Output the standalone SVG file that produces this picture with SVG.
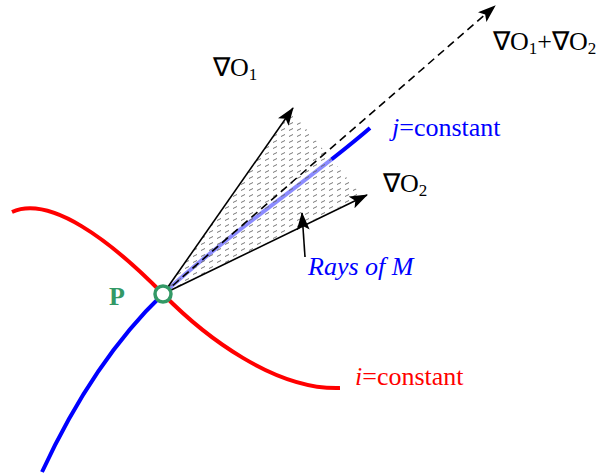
<svg xmlns="http://www.w3.org/2000/svg" width="598" height="475" viewBox="0 0 598 475">
<style>
text{font-family:"Liberation Serif","Times New Roman",serif;font-size:26px;}
.sub{font-size:17px;}
.arr{stroke:#000;stroke-width:1.6;fill:none;}
</style>
<defs>
<marker id="ah" viewBox="0 0 18 13" refX="17" refY="6.5" markerWidth="18" markerHeight="13" markerUnits="userSpaceOnUse" orient="auto">
<path d="M0,0 L18,6.5 L0,13 L4,6.5 Z" fill="#000"/>
</marker>
<pattern id="dots" width="8" height="6" patternUnits="userSpaceOnUse">
<line x1="1" y1="4.5" x2="5" y2="2.5" stroke="#666" stroke-width="0.9"/>
</pattern>
</defs>
<g id="curve-i">
<path d="M12,212 C50,195 110,240 163,294 C205,337 275,390 340,388" fill="none" stroke="#ff0000" stroke-width="4"/>
</g>
<g id="curve-j">
<path d="M42,472 C80,390 120,335 163,294 C230,232 310,180 370,128" fill="none" stroke="#0000ff" stroke-width="4"/>
</g>
<g id="rays-region">
<polygon points="163,294 290,112 303,125 362,196" fill="#fff" fill-opacity="0.55"/>
<polygon points="163,294 290,112 303,125 362,196" fill="url(#dots)"/>
</g>
<g id="connectors">
<line class="arr" x1="163" y1="294" x2="293" y2="108" marker-end="url(#ah)"/>
<line class="arr" x1="163" y1="294" x2="367" y2="195" marker-end="url(#ah)"/>
<line class="arr" x1="163" y1="294" x2="495" y2="6" stroke-dasharray="8,5" stroke-width="1.8" marker-end="url(#ah)"/>
<line class="arr" x1="305" y1="257" x2="302" y2="213" marker-end="url(#ah)"/>
</g>
<g id="P">
<circle cx="163" cy="294" r="8" fill="#fff" stroke="#339966" stroke-width="3.5"/>
<text x="109" y="305" fill="#339966" font-weight="bold">P</text>
</g>
<g id="gradO1">
<text x="213" y="76">∇O<tspan class="sub" dy="4">1</tspan></text>
</g>
<g id="gradSum">
<text x="493" y="50">∇O<tspan class="sub" dy="4">1</tspan><tspan dy="-4">+∇O</tspan><tspan class="sub" dy="4">2</tspan></text>
</g>
<g id="gradO2">
<text x="383" y="192">∇O<tspan class="sub" dy="4">2</tspan></text>
</g>
<g id="label-j">
<text x="392" y="136" fill="#0000ff"><tspan font-style="italic">j</tspan>=constant</text>
</g>
<g id="label-i">
<text x="355" y="385" fill="#ff0000"><tspan font-style="italic">i</tspan>=constant</text>
</g>
<g id="label-M">
<text x="308" y="275" fill="#0000ff" font-style="italic">Rays of M</text>
</g>
</svg>
